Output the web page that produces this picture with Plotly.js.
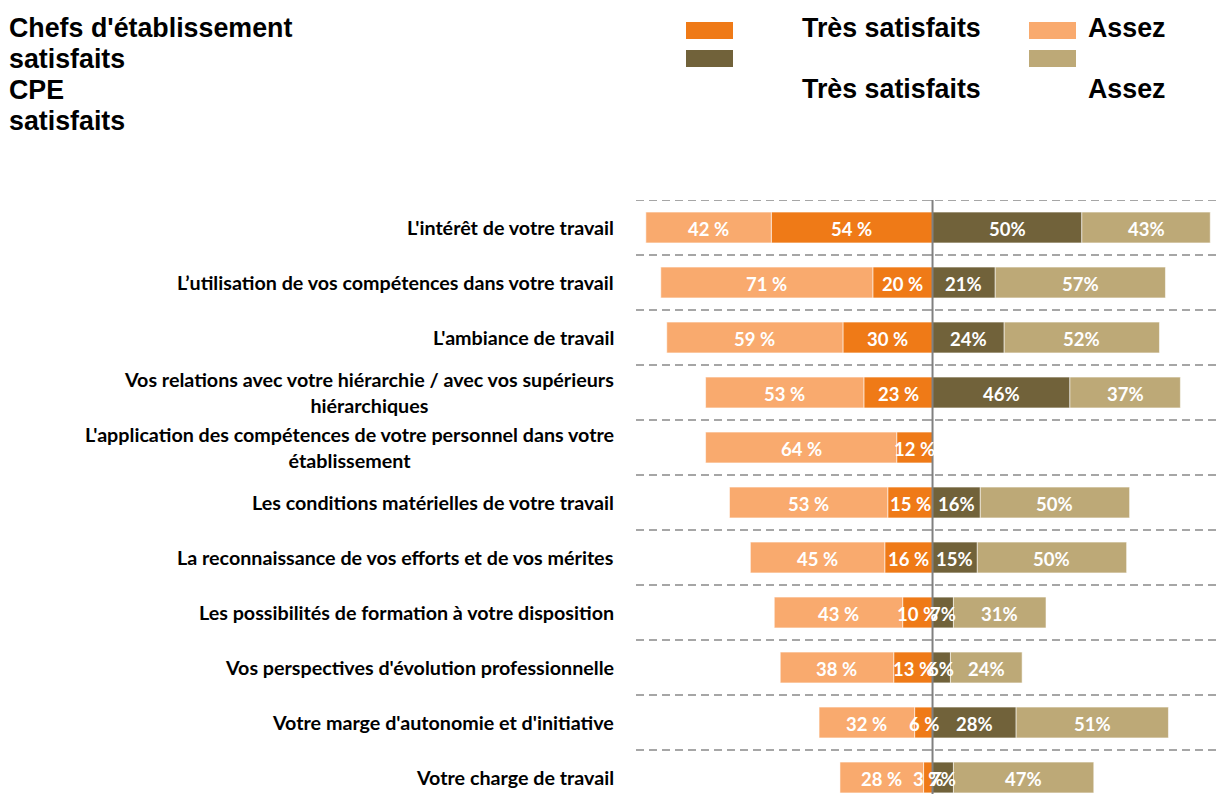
<!DOCTYPE html>
<html>
<head>
<meta charset="utf-8">
<script src="https://cdn.plot.ly/plotly-3.0.1.min.js"></script>
<style>html,body{margin:0;padding:0;background:#fff;}#chart{width:1221px;height:794px;}</style>
</head>
<body>
<div id="chart"></div>
<script>
// ---------- data ----------
const categories = [
  "L'intérêt de votre travail",
  "L’utilisation de vos compétences dans votre travail",
  "L'ambiance de travail",
  "Vos relations avec votre hiérarchie / avec vos supérieurs<br>hiérarchiques",
  "L'application des compétences de votre personnel dans votre<br>établissement",
  "Les conditions matérielles de votre travail",
  "La reconnaissance de vos efforts et de vos mérites",
  "Les possibilités de formation à votre disposition",
  "Vos perspectives d'évolution professionnelle",
  "Votre marge d'autonomie et d'initiative",
  "Votre charge de travail"
];
const chefsTres  = [54, 20, 30, 23, 12, 15, 16, 10, 13, 6, 3];
const chefsAssez = [42, 71, 59, 53, 64, 53, 45, 43, 38, 32, 28];
const cpeTres    = [50, 21, 24, 46, null, 16, 15, 7, 6, 28, 7];
const cpeAssez   = [43, 57, 52, 37, null, 50, 50, 31, 24, 51, 47];

const headerLeft = ["Chefs d'établissement", "satisfaits", "CPE", "satisfaits"];
const legendTres = "Très satisfaits";
const legendAssez = "Assez";

const colors = {
  chefsTres: "#EF7A17",
  chefsAssez: "#F9AA6E",
  cpeTres: "#71623A",
  cpeAssez: "#BDA977"
};

// ---------- layout helpers ----------
const W = 1221, H = 794;
const L = 636, R = 1221, T = 200, B = 794;
const px = v => (v - L) / (R - L);
const py = v => (B - v) / (B - T);

const idx = categories.map((c, i) => i);
const neg = a => a.map(v => v == null ? null : -v);

function barTrace(vals, color, name) {
  return {
    type: "bar", orientation: "h", name: name,
    x: vals, y: idx, width: 0.56,
    marker: {color: color, line: {color: "rgba(255,255,255,0.55)", width: 1}},
    hoverinfo: "skip"
  };
}

const data = [
  barTrace(neg(chefsTres), colors.chefsTres, "Chefs très satisfaits"),
  barTrace(neg(chefsAssez), colors.chefsAssez, "Chefs assez satisfaits"),
  barTrace(cpeTres, colors.cpeTres, "CPE très satisfaits"),
  barTrace(cpeAssez, colors.cpeAssez, "CPE assez satisfaits")
];

const shapes = [];
// dashed separators
for (let i = 0; i < categories.length; i++) {
  shapes.push({type: "line", xref: "paper", yref: "y", x0: 0, x1: 1, y0: i - 0.5, y1: i - 0.5,
    line: {color: "#A6A6A6", width: 2, dash: "8px,5px"}, layer: "below"});
  shapes.push({type: "line", xref: "x", yref: "y", x0: -2.7, x1: 0, y0: i - 0.5, y1: i - 0.5,
    line: {color: "#A6A6A6", width: 2}, layer: "below"});
}
// zero axis
shapes.push({type: "line", xref: "x", yref: "paper", x0: 0, x1: 0, y0: 0, y1: 1,
  line: {color: "#808080", width: 2}, layer: "above"});
// legend swatches
const sw = (x0, y0, c) => ({type: "rect", xref: "paper", yref: "paper",
  x0: px(x0), x1: px(x0 + 47), y0: py(y0 + 17), y1: py(y0), fillcolor: c, line: {width: 0}});
shapes.push(sw(686, 22, colors.chefsTres));
shapes.push(sw(1029, 22, colors.chefsAssez));
shapes.push(sw(686, 50, colors.cpeTres));
shapes.push(sw(1029, 50, colors.cpeAssez));

const annotations = [];
// value labels on top of every bar (centre of each stacked segment, from the data)
const labFont = {family: "Lato, 'Open Sans', sans-serif", size: 18.5, color: "#ffffff", weight: "bold"};
function addLabels(vals, base, sign, suffix) {
  vals.forEach((v, i) => {
    if (v == null) return;
    const b = base ? base[i] : 0;
    annotations.push({xref: "x", yref: "y", x: sign * (b + v / 2), y: i, text: v + suffix,
      xanchor: "center", yanchor: "middle", showarrow: false, font: labFont, yshift: -1});
  });
}
addLabels(chefsAssez, chefsTres, -1, " %");
addLabels(chefsTres, null, -1, " %");
addLabels(cpeAssez, cpeTres, 1, "%");
addLabels(cpeTres, null, 1, "%");

const catFont = {family: "Lato, 'Open Sans', sans-serif", size: 19.7, color: "#000000", weight: "bold"};
categories.forEach((c, i) => {
  annotations.push({xref: "paper", yref: "y", x: px(616), y: i, text: c,
    xanchor: "right", yanchor: "middle", align: "center", showarrow: false, font: catFont});
});
const headFont = {family: "'Liberation Sans', Arial, sans-serif", size: 26.8, color: "#000000", weight: "bold"};
const headY = [28, 59, 90, 121];
headerLeft.forEach((t, i) => {
  annotations.push({xref: "paper", yref: "paper", x: px(7), y: py(headY[i]), text: t,
    xanchor: "left", yanchor: "middle", showarrow: false, font: headFont});
});
[[800, 28, legendTres], [1086, 28, legendAssez], [800, 89, legendTres], [1086, 89, legendAssez]].forEach(p => {
  annotations.push({xref: "paper", yref: "paper", x: px(p[0]), y: py(p[1]), text: p[2],
    xanchor: "left", yanchor: "middle", showarrow: false, font: headFont});
});

const layout = {
  width: W, height: H,
  margin: {l: L, r: W - R, t: T, b: H - B, pad: 0},
  paper_bgcolor: "#ffffff", plot_bgcolor: "#ffffff",
  barmode: "relative", bargap: 0,
  showlegend: false,
  xaxis: {range: [-99.3, 96.6], visible: false, fixedrange: true},
  yaxis: {range: [10.3, -0.5], visible: false, fixedrange: true},
  shapes: shapes,
  annotations: annotations
};

Plotly.newPlot("chart", data, layout, {displayModeBar: false, staticPlot: true});
</script>
</body>
</html>
